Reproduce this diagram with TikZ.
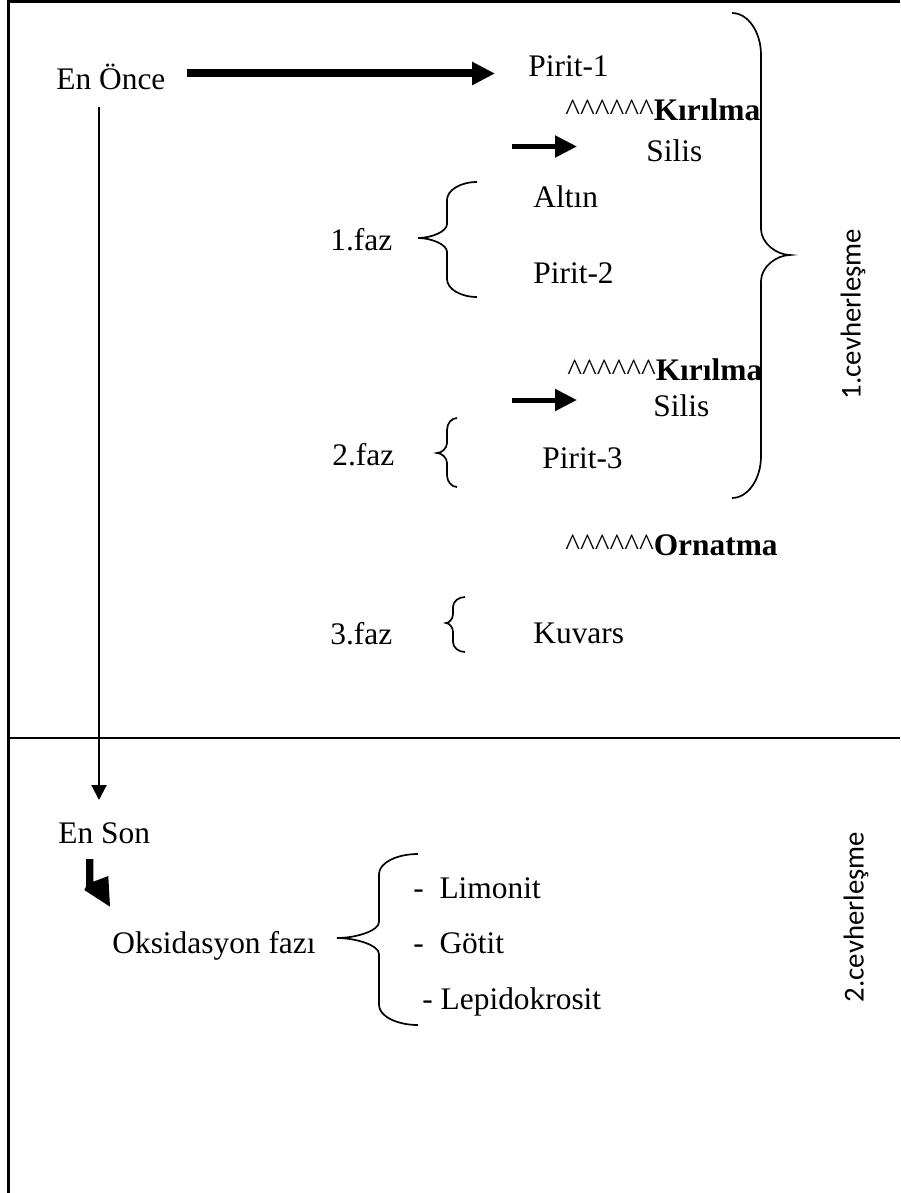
\documentclass[tikz,border=0pt]{standalone}
\usepackage{fontspec}
\setmainfont{Liberation Serif}
\newfontfamily\sidefont{Carlito}
\usetikzlibrary{arrows.meta}

% six ASCII carets in a row
\newcommand{\carets}{\textasciicircum\textasciicircum\textasciicircum\textasciicircum\textasciicircum\textasciicircum}

% curly brace: tip x, stem x, point x, top y, middle y, bottom y, end radius, middle radius
\newcommand{\curlybrace}[8]{%
  \draw[bracestroke] (#1,#4)
    .. controls ({#1+0.55*(#2-#1)},#4) and (#2,{#4+0.45*#7}) .. (#2,{#4+#7})
    -- (#2,{#5-#8})
    .. controls (#2,{#5-0.45*#8}) and ({#2+0.55*(#3-#2)},#5) .. (#3,#5)
    .. controls ({#2+0.55*(#3-#2)},#5) and (#2,{#5+0.45*#8}) .. (#2,{#5+#8})
    -- (#2,{#6-#7})
    .. controls (#2,{#6-0.45*#7}) and ({#1+0.55*(#2-#1)},#6) .. (#1,#6);}

\tikzset{
  txt/.style={inner sep=0pt, anchor=base west, font=\fontsize{15.7}{18}\selectfont},
  sidetxt/.style={inner sep=0pt, rotate=90, font=\sidefont\fontsize{14.4}{17}\selectfont},
  framerule/.style={line width=1.25pt},
  bigarrow/.style={line width=4pt, -{Triangle[length=11.5pt,width=11pt]}},
  smallarrow/.style={line width=2.5pt, -{Triangle[length=11pt,width=10.5pt]}},
  thinarrow/.style={line width=1pt, -{Triangle[length=7.5pt,width=7.5pt]}},
  bracestroke/.style={line width=0.85pt},
}

\begin{document}
\begin{tikzpicture}[x=0.5pt, y=-0.5pt]
\useasboundingbox (0,0) rectangle (900,1193);

% frame of the table
\draw[framerule] (8.5,1193) -- (8.5,1.5) -- (900,1.5);
\draw[framerule] (8.5,738) -- (900,738);

% first stage
\node[txt] (enonce) at (56,90) {En Önce};
\node[txt] (pirit1) at (528,76) {Pirit-1};
\node[txt] (kir1) at (565,120) {\carets\textbf{Kırılma}};
\node[txt] (silis1) at (646,162) {Silis};
\node[txt] (altin) at (533,207) {Altın};
\node[txt] (faz1) at (330,250) {1.faz};
\node[txt] (pirit2) at (533,283) {Pirit-2};
\node[txt] (kir2) at (567,380) {\carets\textbf{Kırılma}};
\node[txt] (silis2) at (653,416) {Silis};
\node[txt] (faz2) at (332,465) {2.faz};
\node[txt] (pirit3) at (542,468) {Pirit-3};
\node[txt] (orn) at (565,555) {\carets\textbf{Ornatma}};
\node[txt] (faz3) at (330,644) {3.faz};
\node[txt] (kuvars) at (533,643) {Kuvars};

% second stage
\node[txt] (enson) at (58,843) {En Son};
\node[txt] (oks) at (112,953) {Oksidasyon fazı};
\node[txt] (limonit) at (413,898) {-\ \ Limonit};
\node[txt] (gotit) at (413,953) {-\ \ Götit};
\node[txt] (lepido) at (422,1009) {- Lepidokrosit};

% side labels
\node[sidetxt] (cev1) at (853,314) {1.cevherleşme};
\node[sidetxt] (cev2) at (856,917) {2.cevherleşme};

% arrows
\coordinate (bigS) at (187,73.5);
\coordinate (bigE) at (495,73.5);
\draw[bigarrow] (bigS) -- (bigE);
\coordinate (sm1S) at (512,146.5);
\coordinate (sm1E) at (577,146.5);
\draw[smallarrow] (sm1S) -- (sm1E);
\coordinate (sm2S) at (512,400);
\coordinate (sm2E) at (577,400);
\draw[smallarrow] (sm2S) -- (sm2E);
\coordinate (vS) at (99,107);
\coordinate (vE) at (99,800);
\draw[thinarrow] (vS) -- (vE);

% bent block arrow below "En Son"
\fill (86,859) -- (93.3,859) -- (93.3,881.7) -- (108.3,876) -- (110,906.7)
  -- (84.3,890) -- (86,886.7) -- cycle;

% braces
\curlybrace{732}{761}{790}{13}{255}{498}{42}{26}
\curlybrace{477}{447}{418}{182}{238}{297}{18}{14}
\curlybrace{457}{447}{437}{418}{453}{487}{12}{10}
\curlybrace{465}{453}{446}{597}{623}{652}{10}{9}
\curlybrace{418}{379}{337}{854}{938}{1025}{20}{16}
\end{tikzpicture}
\end{document}
